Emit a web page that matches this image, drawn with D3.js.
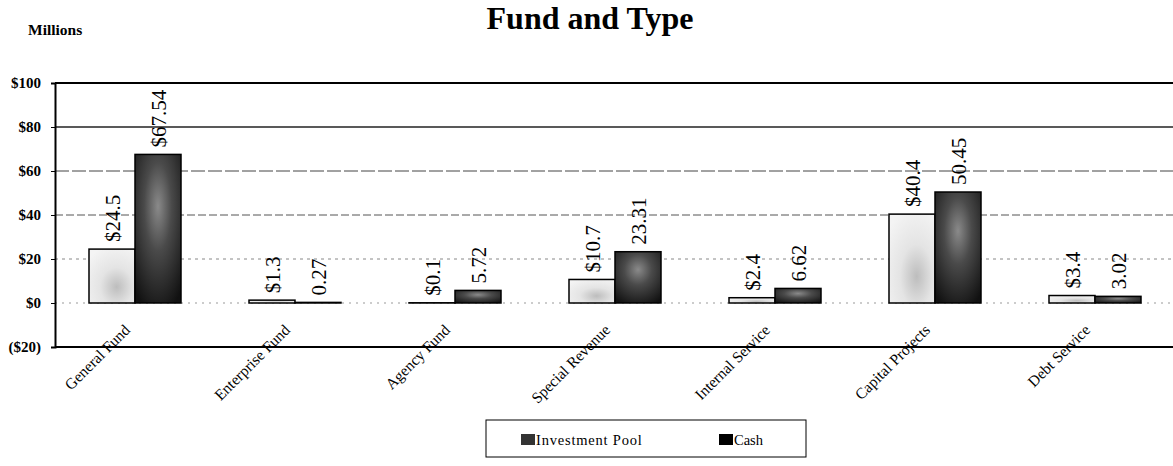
<!DOCTYPE html>
<html>
<head>
<meta charset="utf-8">
<script src="https://cdn.jsdelivr.net/npm/d3@7"></script>
<style>
  body { margin: 0; background: #fff; }
  svg { display: block; }
  text { font-family: "Liberation Serif", "Times New Roman", serif; }
</style>
</head>
<body>
<svg></svg>
<script>
let width = 1173, height = 466;

// data
let categories = ["General Fund", "Enterprise Fund", "Agency Fund", "Special Revenue",
                  "Internal Service", "Capital Projects", "Debt Service"];
let investmentPool = [24.5, 1.3, 0.1, 10.7, 2.4, 40.4, 3.4];
let cash = [67.54, 0.27, 5.72, 23.31, 6.62, 50.45, 3.02];
let investmentLabels = ["$24.5", "$1.3", "$0.1", "$10.7", "$2.4", "$40.4", "$3.4"];
let cashLabels = ["$67.54", "0.27", "5.72", "23.31", "6.62", "50.45", "3.02"];
let yTicks = [-20, 0, 20, 40, 60, 80, 100];
let seriesNames = ["Investment Pool", "Cash"];

let svg = d3.select("svg")
    .attr("width", width)
    .attr("height", height);

let defs = svg.append("defs");

// mottled look of the scanned bars
let gInv = defs.append("radialGradient").attr("id", "invFill")
    .attr("cx", "0.6").attr("cy", "0.7").attr("r", "0.8");
gInv.append("stop").attr("offset", "0%").attr("stop-color", "#bdbdbd");
gInv.append("stop").attr("offset", "45%").attr("stop-color", "#e4e4e4");
gInv.append("stop").attr("offset", "100%").attr("stop-color", "#f4f4f4");

let gCash = defs.append("radialGradient").attr("id", "cashFill")
    .attr("cx", "0.5").attr("cy", "0.35").attr("r", "0.75");
gCash.append("stop").attr("offset", "0%").attr("stop-color", "#8a8a8a");
gCash.append("stop").attr("offset", "40%").attr("stop-color", "#4a4a4a");
gCash.append("stop").attr("offset", "100%").attr("stop-color", "#111");

let plotLeft = 55, plotRight = 1175, plotTop = 83, plotBottom = 347;

let x0 = d3.scaleBand()
    .domain(categories)
    .range([plotLeft, plotRight])
    .paddingInner(0)
    .paddingOuter(0);

let x1 = d3.scaleBand()
    .domain(seriesNames)
    .range([x0.bandwidth() / 2 - 46, x0.bandwidth() / 2 + 46]);

let y = d3.scaleLinear()
    .domain([-20, 100])
    .range([plotBottom, plotTop]);

// gridlines, each a bit different like the scan
let gridStyle = {
    80: { stroke: "#222", width: 1.3, dash: null },
    60: { stroke: "#444", width: 1, dash: "14,3" },
    40: { stroke: "#555", width: 1, dash: "8,3" },
    20: { stroke: "#888", width: 1, dash: "3,4" },
    0: { stroke: "#999", width: 1, dash: "2,5" }
};
svg.append("g")
    .selectAll("line")
    .data(yTicks.filter(d => d > -20 && d < 100))
    .enter()
    .append("line")
    .attr("x1", plotLeft).attr("x2", width)
    .attr("y1", d => y(d)).attr("y2", d => y(d))
    .attr("stroke", d => gridStyle[d].stroke)
    .attr("stroke-width", d => gridStyle[d].width)
    .attr("stroke-dasharray", d => gridStyle[d].dash);

// frame lines
svg.append("line").attr("x1", plotLeft).attr("x2", width)
    .attr("y1", y(100)).attr("y2", y(100))
    .attr("stroke", "#000").attr("stroke-width", 2);
svg.append("line").attr("x1", plotLeft).attr("x2", width)
    .attr("y1", y(-20)).attr("y2", y(-20))
    .attr("stroke", "#000").attr("stroke-width", 2);

// y axis
let yAxis = svg.append("g")
    .attr("transform", "translate(" + plotLeft + ",0)")
    .call(d3.axisLeft(y).tickValues(yTicks).tickSize(4)
        .tickFormat(d => d < 0 ? "($" + (-d) + ")" : "$" + d));
yAxis.select(".domain").attr("stroke", "#000").attr("stroke-width", 2);
yAxis.selectAll("text")
    .attr("x", -14)
    .style("font-family", "'Liberation Serif', serif")
    .style("font-size", "15px")
    .style("font-weight", "bold")
    .attr("fill", "#000");

// bars
let groups = svg.append("g")
    .selectAll("g")
    .data(categories)
    .enter()
    .append("g")
    .attr("transform", d => "translate(" + x0(d) + ",0)");

let fills = ["url(#invFill)", "url(#cashFill)"];
let seriesVals = [investmentPool, cash];
let seriesLabels = [investmentLabels, cashLabels];

groups.selectAll("rect")
    .data((d, i) => seriesNames.map((s, k) => ({ s: s, k: k, v: seriesVals[k][i] })))
    .enter()
    .append("rect")
    .attr("x", d => x1(d.s))
    .attr("width", x1.bandwidth())
    .attr("y", d => y(d.v))
    .attr("height", d => y(0) - y(d.v))
    .attr("fill", d => fills[d.k])
    .attr("stroke", "#000")
    .attr("stroke-width", 1.5);

// value labels, vertical
groups.selectAll("text.val")
    .data((d, i) => seriesNames.map((s, k) => ({ s: s, k: k, v: seriesVals[k][i], t: seriesLabels[k][i] })))
    .enter()
    .append("text")
    .attr("class", "val")
    .attr("transform", d => "translate(" + (x1(d.s) + x1.bandwidth() / 2 + 8) + "," + (y(d.v) - 7) + ") rotate(-90)")
    .style("font-size", "21px")
    .attr("fill", "#000")
    .text(d => d.t);

// category labels at 45 degrees
svg.append("g")
    .selectAll("text")
    .data(categories)
    .enter()
    .append("text")
    .attr("transform", d => "translate(" + (x0(d) + x0.bandwidth() / 2 - 4) + ",331) rotate(-45)")
    .attr("text-anchor", "end")
    .style("font-size", "15.5px")
    .attr("fill", "#000")
    .text(d => d);

// title and unit
svg.append("text")
    .attr("x", 590).attr("y", 29)
    .attr("text-anchor", "middle")
    .style("font-size", "32px")
    .style("font-weight", "bold")
    .text("Fund and Type");

svg.append("text")
    .attr("x", 28).attr("y", 35)
    .style("font-size", "15.5px")
    .style("font-weight", "bold")
    .text("Millions");

// legend
let legend = svg.append("g");
legend.append("rect")
    .attr("x", 486).attr("y", 420)
    .attr("width", 320).attr("height", 37)
    .attr("fill", "#fff")
    .attr("stroke", "#000")
    .attr("stroke-width", 1);

let legendX = [521, 719];
let legendItems = legend.selectAll("g")
    .data(seriesNames)
    .enter()
    .append("g")
    .attr("transform", (d, i) => "translate(" + legendX[i] + ",434)");
legendItems.append("rect")
    .attr("width", 14).attr("height", 11)
    .attr("fill", (d, i) => i === 0 ? "#333" : "#000");
legendItems.append("text")
    .attr("x", 15).attr("y", 10.5)
    .style("font-size", "14.5px")
    .style("letter-spacing", (d, i) => i === 0 ? "0.8px" : "0px")
    .text(d => d);
</script>
</body>
</html>
